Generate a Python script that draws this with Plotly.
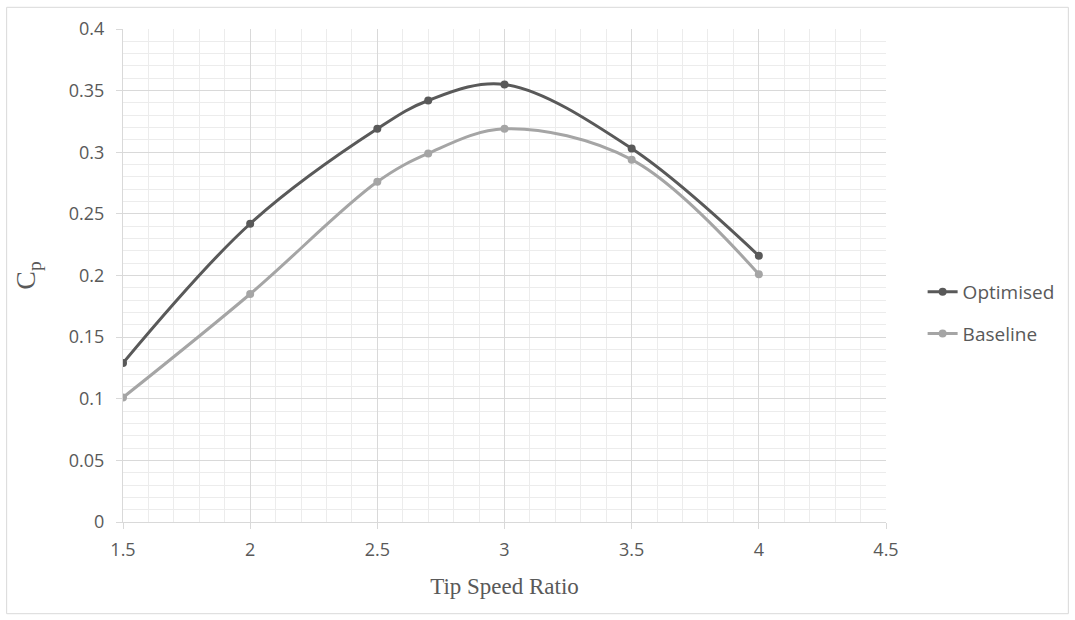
import plotly.graph_objects as go

# Power coefficient against tip speed ratio
tsr_optimised = [1.5, 2.0, 2.5, 2.7, 3.0, 3.5, 4.0]
cp_optimised = [0.129, 0.242, 0.319, 0.342, 0.355, 0.303, 0.216]

tsr_baseline = [1.5, 2.0, 2.5, 2.7, 3.0, 3.5, 4.0]
cp_baseline = [0.101, 0.185, 0.276, 0.299, 0.319, 0.294, 0.201]

x_ticks = [1.5, 2, 2.5, 3, 3.5, 4, 4.5]
y_ticks = [0, 0.05, 0.1, 0.15, 0.2, 0.25, 0.3, 0.35, 0.4]

DARK = "#595959"
LIGHT = "#A5A5A5"
GRID = "#D9D9D9"
MINOR = "#ECECEC"
TEXT = "#595959"
SERIF = "Liberation Serif"
SANS = "Open Sans"

fig = go.Figure()
fig.add_trace(go.Scatter(
    x=tsr_optimised, y=cp_optimised, name="Optimised",
    mode="lines+markers", legendgroup="a",
    line=dict(color=DARK, width=3, shape="spline", smoothing=1.0),
    marker=dict(color=DARK, size=8),
))
fig.add_trace(go.Scatter(
    x=tsr_baseline, y=cp_baseline, name="Baseline",
    mode="lines+markers", legendgroup="b",
    line=dict(color=LIGHT, width=3, shape="spline", smoothing=1.0),
    marker=dict(color=LIGHT, size=8),
))

fig.update_xaxes(
    range=[1.5, 4.5], tickvals=x_ticks, ticktext=[f"{v:g}" for v in x_ticks],
    showgrid=True, gridcolor=GRID, gridwidth=1,
    minor=dict(dtick=0.1, showgrid=True, gridcolor=MINOR, gridwidth=1, ticks="", ticklen=0),
    showline=True, linecolor=GRID, linewidth=1,
    ticks="outside", ticklen=6, tickcolor=GRID,
    tickfont=dict(family=SANS, size=18, color=TEXT), ticklabelstandoff=5,
    zeroline=False,
    title=dict(text="Tip Speed Ratio", font=dict(family=SERIF, size=23, color=TEXT), standoff=18),
)
fig.update_yaxes(
    range=[0, 0.4], tickvals=y_ticks, ticktext=[f"{v:g}" for v in y_ticks],
    showgrid=True, gridcolor=GRID, gridwidth=1,
    minor=dict(dtick=0.01, showgrid=True, gridcolor=MINOR, gridwidth=1, ticks="", ticklen=0),
    showline=True, linecolor=GRID, linewidth=1,
    ticks="outside", ticklen=6, tickcolor=GRID,
    tickfont=dict(family=SANS, size=18, color=TEXT), ticklabelstandoff=8,
    zeroline=False,
    title=dict(text="C<sub>p</sub>", font=dict(family=SERIF, size=28, color=TEXT), standoff=24),
)

fig.update_layout(
    width=1075, height=620,
    margin=dict(l=123, r=189, t=29, b=98),
    paper_bgcolor="white", plot_bgcolor="white",
    legend=dict(
        x=1.048, y=0.424, xanchor="left", yanchor="middle",
        font=dict(family=SANS, size=19, color=TEXT),
        tracegroupgap=14, bgcolor="rgba(0,0,0,0)",
    ),
    shapes=[dict(
        type="rect", xref="paper", yref="paper",
        x0=-0.1525, x1=1.239, y0=-0.186, y1=1.044,
        line=dict(color="#D9D9D9", width=1), layer="below",
    )],
)

fig.write_html("out.html")
